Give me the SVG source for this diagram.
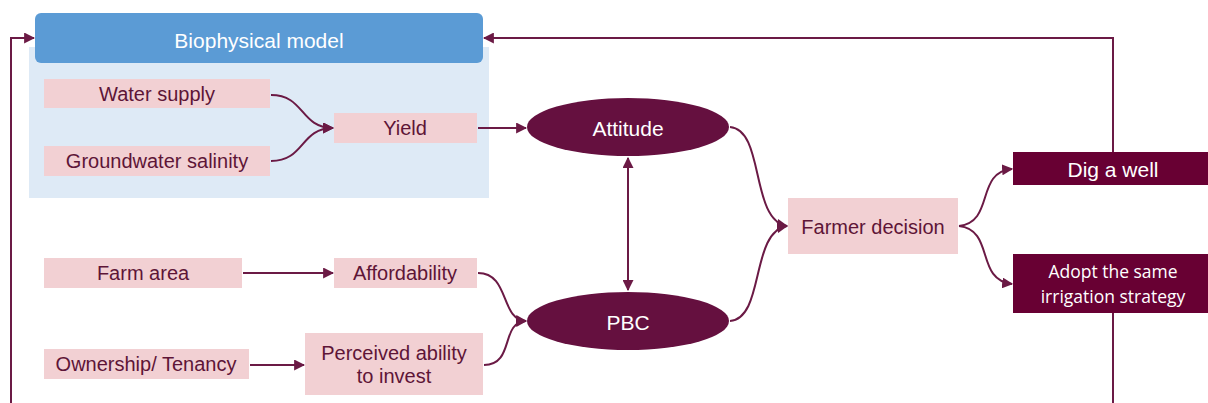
<svg xmlns="http://www.w3.org/2000/svg" width="1208" height="403" viewBox="0 0 1208 403">
<style>
.pk{fill:#F2D0D3}
.pt{font-family:"Liberation Sans",Arial,sans-serif;font-size:20px;fill:#5E1537;text-anchor:middle;dominant-baseline:central}
.wt{font-family:"Liberation Sans",Arial,sans-serif;font-size:21px;fill:#FFFFFF;text-anchor:middle;dominant-baseline:central}
.ct{font-family:"Open Sans",sans-serif;font-size:17.5px;fill:#FFFFFF;text-anchor:middle;dominant-baseline:central}
.dk{fill:#65103F}
.bx{fill:#680033}
.ln{fill:none;stroke:#6B1A45;stroke-width:2}
</style>
<defs>
<marker id="ah" viewBox="0 0 10 10" refX="9" refY="5" markerWidth="5.5" markerHeight="5.5" orient="auto-start-reverse" markerUnits="strokeWidth">
<path d="M0,0 L10,5 L0,10 z" fill="#6B1A45"/>
</marker>
</defs>
<rect width="1208" height="403" fill="#FFFFFF"/>
<g id="biophysical">
<rect x="29" y="47" width="460" height="151" fill="#DEEAF6"/>
<rect x="35" y="13" width="448" height="50" rx="6" fill="#5B9BD5"/>
<text class="wt" x="259" y="40">Biophysical model</text>
</g>
<g id="water-supply"><rect class="pk" x="44" y="79" width="226" height="29"/><text class="pt" x="157" y="94">Water supply</text></g>
<g id="groundwater"><rect class="pk" x="44" y="146" width="226" height="30"/><text class="pt" x="157" y="161">Groundwater salinity</text></g>
<g id="yield"><rect class="pk" x="334" y="113" width="143" height="30"/><text class="pt" x="405" y="128">Yield</text></g>
<g id="attitude"><ellipse class="dk" cx="628" cy="127" rx="101" ry="29"/><text class="wt" x="628" y="128">Attitude</text></g>
<g id="pbc"><ellipse class="dk" cx="628" cy="321" rx="101" ry="29"/><text class="wt" x="628" y="322">PBC</text></g>
<g id="farm-area"><rect class="pk" x="44" y="258" width="198" height="30"/><text class="pt" x="143" y="273">Farm area</text></g>
<g id="affordability"><rect class="pk" x="334" y="258" width="143" height="30"/><text class="pt" x="405" y="273">Affordability</text></g>
<g id="ownership"><rect class="pk" x="44" y="349" width="205" height="30"/><text class="pt" x="146" y="364">Ownership/ Tenancy</text></g>
<g id="perceived"><rect class="pk" x="305" y="333" width="178" height="62"/><text class="pt" x="394" y="353">Perceived ability</text><text class="pt" x="394" y="376">to invest</text></g>
<g id="farmer-decision"><rect class="pk" x="788" y="198" width="170" height="56"/><text class="pt" x="873" y="227">Farmer decision</text></g>
<g id="dig-well"><rect class="bx" x="1013" y="152" width="195" height="33"/><text class="wt" x="1113" y="169">Dig a well</text></g>
<g id="adopt"><rect class="bx" x="1013" y="254" width="195" height="59"/><text class="ct" x="1113" y="271">Adopt the same</text><text class="ct" x="1113" y="296">irrigation strategy</text></g>
<g id="connectors">
<path class="ln" d="M271,95 C305,95 300,128 333,128" marker-end="url(#ah)"/>
<path class="ln" d="M271,161 C305,161 300,128 333,128" marker-end="url(#ah)"/>
<path class="ln" d="M478,128 L526,128" marker-end="url(#ah)"/>
<path class="ln" d="M628,158 L628,290" marker-start="url(#ah)" marker-end="url(#ah)"/>
<path class="ln" d="M243,273 L333,273" marker-end="url(#ah)"/>
<path class="ln" d="M250,365 L304,365" marker-end="url(#ah)"/>
<path class="ln" d="M478,273 C510,273 500,320 526,321" marker-end="url(#ah)"/>
<path class="ln" d="M484,365 C515,365 500,322 526,321" marker-end="url(#ah)"/>
<path class="ln" d="M730,127 C765,130 750,220 787,226" marker-end="url(#ah)"/>
<path class="ln" d="M730,321 C765,318 750,232 787,226" marker-end="url(#ah)"/>
<path class="ln" d="M959,226 C995,222 975,172 1012,169" marker-end="url(#ah)"/>
<path class="ln" d="M959,226 C995,230 975,280 1012,284" marker-end="url(#ah)"/>
<path class="ln" d="M1113,152 L1113,38 L484,38" marker-end="url(#ah)"/>
<path class="ln" d="M1113,313 L1113,403"/>
<path class="ln" d="M11,403 L11,38 L34,38" marker-end="url(#ah)"/>
</g>
</svg>
